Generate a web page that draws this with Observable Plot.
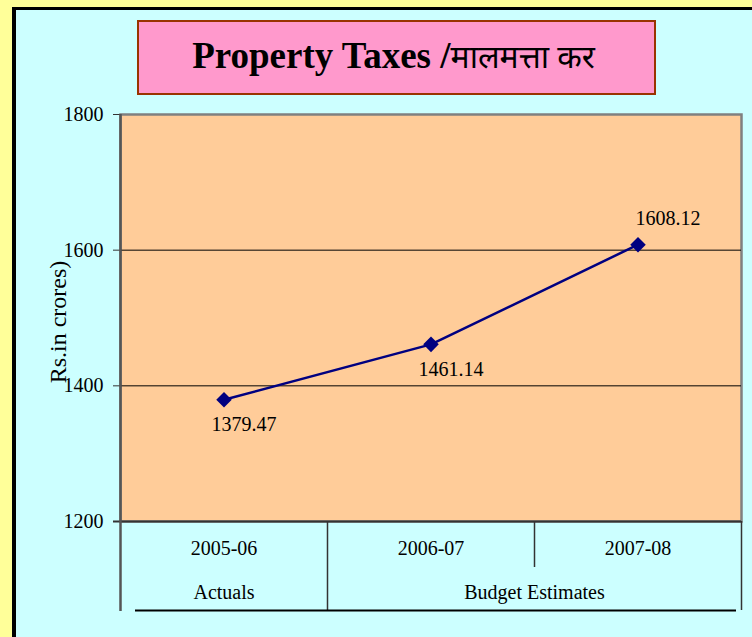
<!DOCTYPE html>
<html>
<head>
<meta charset="utf-8">
<script src="https://cdn.jsdelivr.net/npm/d3@7"></script>
<script src="https://cdn.jsdelivr.net/npm/@observablehq/plot@0.6"></script>
<style>
  html, body { margin: 0; padding: 0; }
  body { width: 752px; height: 637px; background: #FFFF99; position: relative; overflow: hidden; }
  #page { position: absolute; left: 12px; top: 7px; width: 740px; height: 630px;
          border-left: 4px solid #000; border-top: 3px solid #000; background: #CCFFFF; box-sizing: border-box; }
  #title { position: absolute; left: 137px; top: 20px; width: 519px; height: 75px; box-sizing: border-box;
           background: #FF99CC; border: 2px solid #993300; display: flex; align-items: center; justify-content: center;
           font-family: "Liberation Serif", "Noto Sans", serif; font-weight: bold; font-size: 37px; color: #000; padding-bottom: 4px; padding-right: 6px; }
  #title .hi { font-weight: normal; font-size: 32px; }
  #chart { position: absolute; left: 0; top: 0; }
</style>
</head>
<body>
<div id="page"></div>
<div id="chart"></div>
<div id="title"><span>Property Taxes /</span><span class="hi">मालमत्ता कर</span></div>
<script>
const categories = ["2005-06", "2006-07", "2007-08"];
const values = [1379.47, 1461.14, 1608.12];
const labelAbove = [false, false, true];
const groupLabels = ["Actuals", "Budget Estimates"];
const groupStart = [0, 1];
const groupEnd = [1, 3];
const yTicks = [1200, 1400, 1600, 1800];
const gridValues = [1400, 1600];
const yLabel = "Rs.in crores)";

const data = categories.map((c, i) => ({cat: c, idx: i + 0.5, value: values[i], above: labelAbove[i]}));
const groups = groupLabels.map((g, i) => ({label: g, mid: (groupStart[i] + groupEnd[i]) / 2}));
const fullSeps = [1, 3];
const partialSeps = [2];

const plotH = 637 - 114 - 116;

const chart = Plot.plot({
  width: 752,
  height: 637,
  marginLeft: 120,
  marginRight: 11,
  marginTop: 114,
  marginBottom: 116,
  style: {background: "transparent", fontFamily: "Liberation Serif, serif", fontSize: "20px", color: "#000", overflow: "visible"},
  x: {type: "linear", domain: [0, categories.length], axis: null},
  y: {domain: [1200, 1800], axis: null},
  marks: [
    Plot.frame({fill: "#FFCC99", stroke: "#808080", strokeWidth: 2.5}),
    Plot.ruleY(gridValues, {stroke: "#000", strokeWidth: 1}),
    Plot.ruleY([1200], {stroke: "#333", strokeWidth: 2, insetLeft: -7}),
    Plot.axisY({ticks: yTicks, tickSize: 7, tickPadding: 10, tickFormat: d => String(d), label: null, fontSize: 20, stroke: "#333", fill: "#000"}),
    Plot.ruleX([0], {stroke: "#555", strokeWidth: 2.5, insetBottom: -90}),
    Plot.ruleX(fullSeps, {stroke: "#333", strokeWidth: 1.5, insetTop: plotH, insetBottom: -89}),
    Plot.ruleX(partialSeps, {stroke: "#333", strokeWidth: 1.5, insetTop: plotH, insetBottom: -46}),
    Plot.ruleY([1200], {stroke: "#000", strokeWidth: 2, dy: 89, insetLeft: 15, insetRight: 5}),
    Plot.line(data, {x: "idx", y: "value", stroke: "#000080", strokeWidth: 2.5}),
    Plot.dot(data, {x: "idx", y: "value", symbol: "diamond2", r: 7, fill: "#000080", stroke: "none"}),
    Plot.text(data.filter(d => !d.above), {x: "idx", y: "value", text: d => d.value.toFixed(2), dx: 20, dy: 25, fontSize: 20, fill: "#000"}),
    Plot.text(data.filter(d => d.above), {x: "idx", y: "value", text: d => d.value.toFixed(2), dx: 30, dy: -26, fontSize: 20, fill: "#000"}),
    Plot.text(data, {x: "idx", text: "cat", frameAnchor: "bottom", dy: 33, fontSize: 20, fill: "#000"}),
    Plot.text(groups, {x: "mid", text: "label", frameAnchor: "bottom", dy: 77, fontSize: 20, fill: "#000"}),
    Plot.text([yLabel], {text: d => d, frameAnchor: "left", textAnchor: "middle", rotate: -90, dx: -62, dy: 4, fontSize: 24, fill: "#000"})
  ]
});
document.getElementById("chart").appendChild(chart);
</script>
</body>
</html>
